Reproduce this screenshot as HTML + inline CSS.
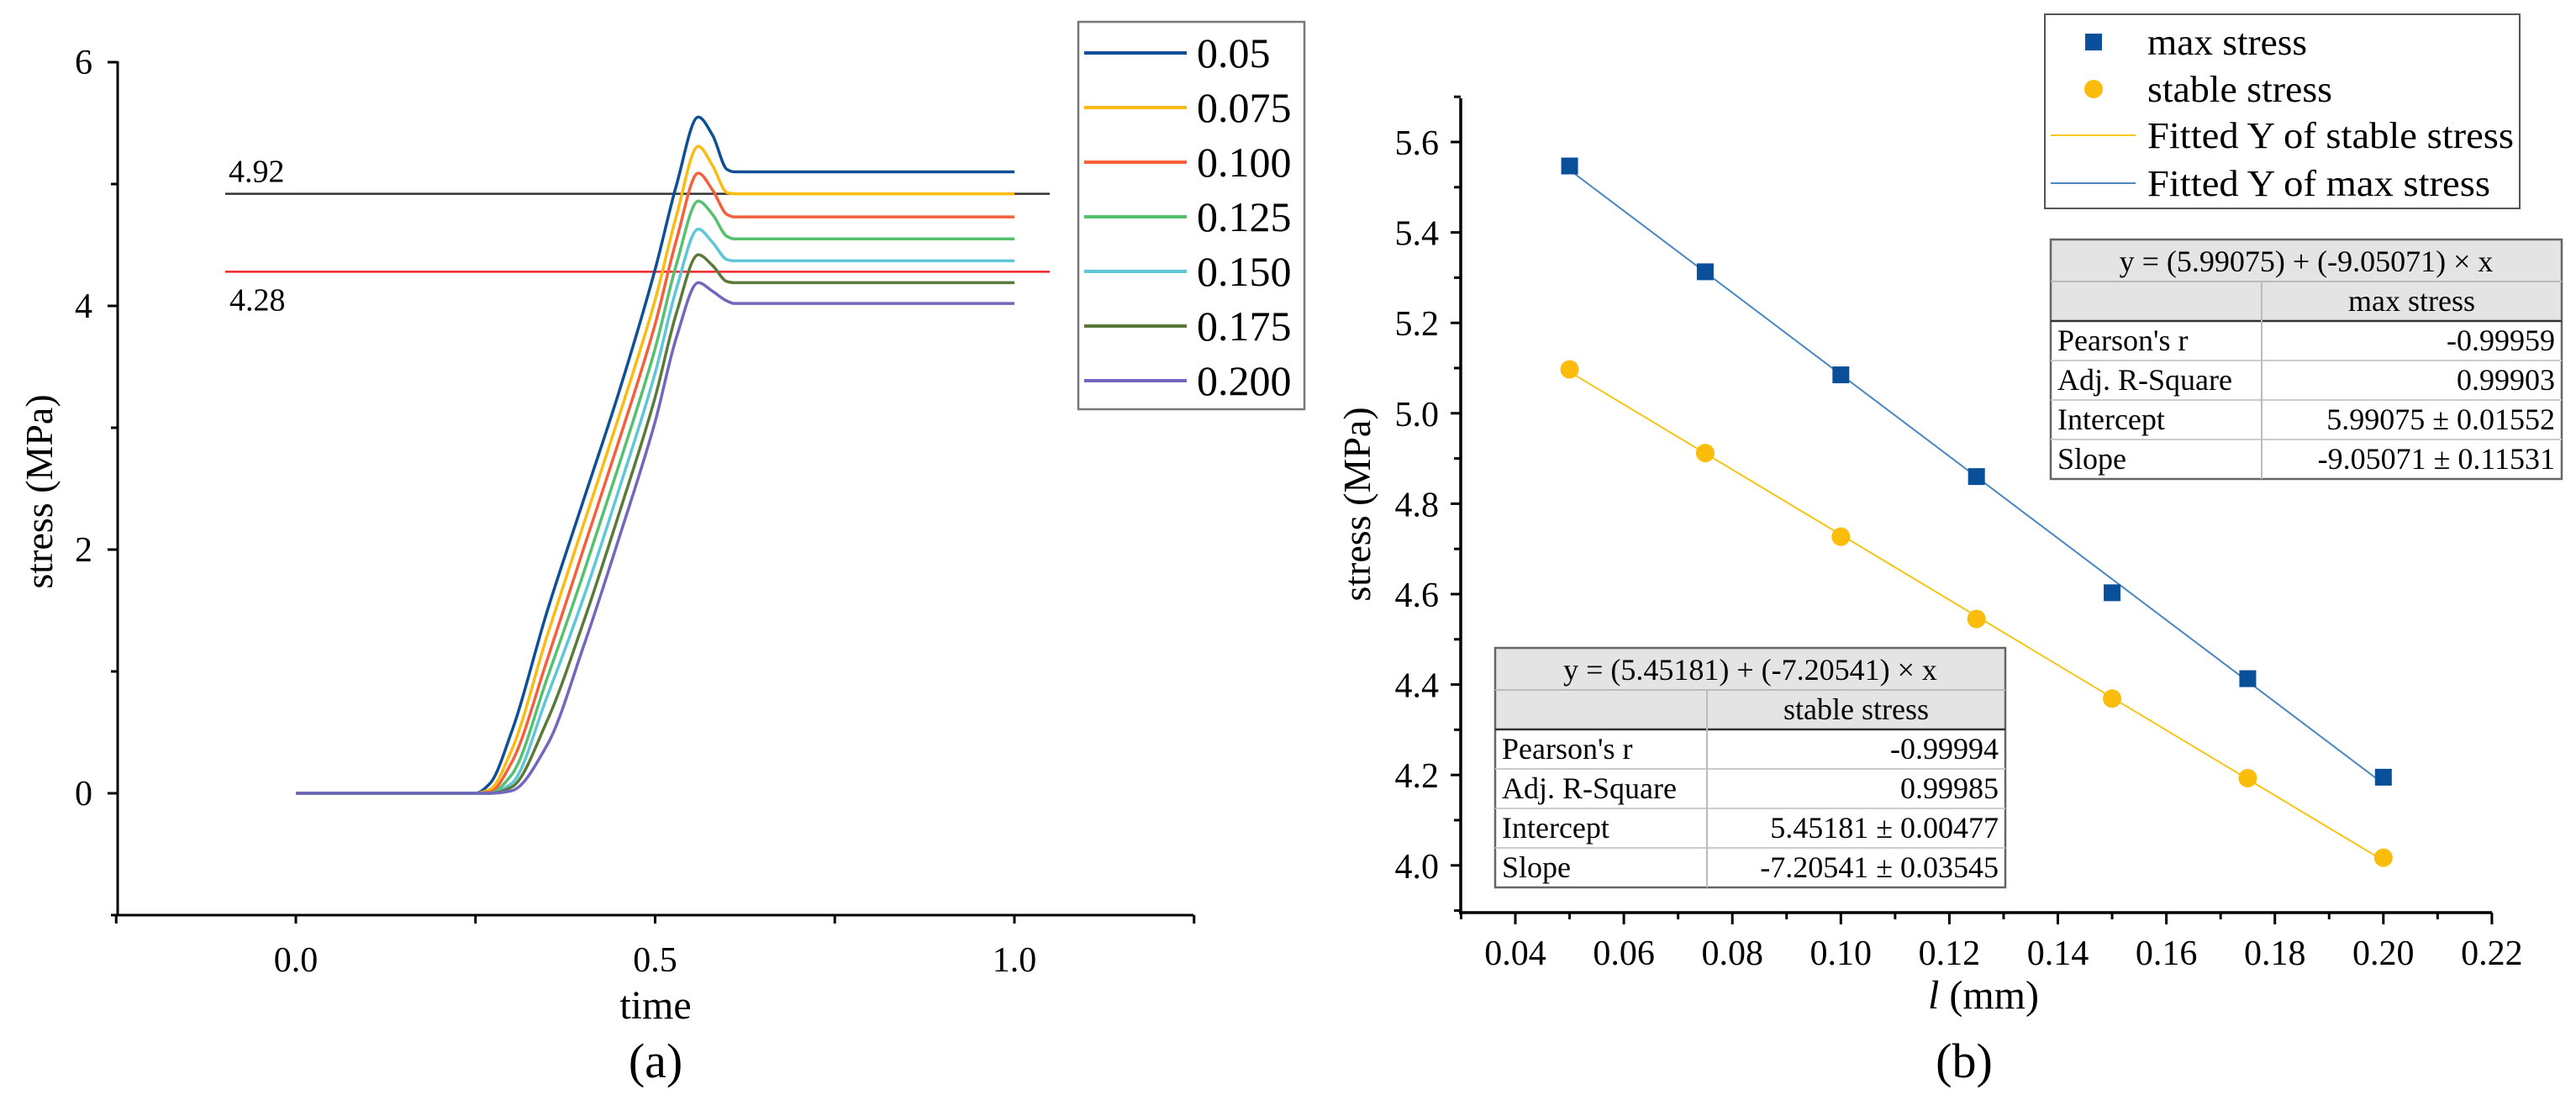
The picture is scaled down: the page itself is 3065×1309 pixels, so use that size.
<!DOCTYPE html>
<html><head><meta charset="utf-8"><style>
html,body{margin:0;padding:0;background:#fff}
svg{display:block;font-family:"Liberation Serif",serif}
</style></head><body>
<svg id="root" width="3065" height="1309" viewBox="0 0 3065 1309" xmlns="http://www.w3.org/2000/svg">
<g id="chartA"></g>
<g id="chartB"></g>
</svg>
<script>
// ---------- Chart (a) data ----------
const timeGrid = [0,0.25,0.27,0.30,0.35,0.40,0.45,0.50,0.53,0.56,0.58,0.60,0.61,1.0];
const seriesLabels = ["0.05","0.075","0.100","0.125","0.150","0.175","0.200"];
const s005 = [0,0,0.08,0.5,1.5,2.4,3.3,4.3,5.0,5.55,5.4,5.12,5.1,5.1];
const s0075 = [0,0,0.03,0.35,1.3,2.2,3.1,4.05,4.75,5.31,5.15,4.93,4.92,4.92];
const s0100 = [0,0,0.01,0.25,1.1,2.0,2.9,3.85,4.55,5.09,4.95,4.75,4.73,4.73];
const s0125 = [0,0,0,0.15,0.95,1.8,2.7,3.65,4.35,4.86,4.75,4.57,4.55,4.55];
const s0150 = [0,0,0,0.08,0.8,1.6,2.5,3.45,4.15,4.63,4.52,4.38,4.37,4.37];
const s0175 = [0,0,0,0.05,0.6,1.4,2.3,3.25,3.95,4.42,4.33,4.2,4.19,4.19];
const s0200 = [0,0,0,0.02,0.4,1.2,2.1,3.05,3.75,4.19,4.12,4.04,4.02,4.02];
const refLevels = [4.92, 4.28];
const xTicksA = [0.0, 0.5, 1.0];
const yTicksA = [0, 2, 4, 6];
// ---------- Chart (b) data ----------
const lengths = [0.05,0.075,0.10,0.125,0.15,0.175,0.20];
const maxStress = [5.547,5.313,5.085,4.860,4.603,4.413,4.195];
const stableStress = [5.097,4.912,4.727,4.545,4.369,4.193,4.017];
const fitMax = [5.99075, -9.05071];
const fitStable = [5.45181, -7.20541];
const xTicksB = [0.04,0.06,0.08,0.10,0.12,0.14,0.16,0.18,0.20,0.22];
const yTicksB = [4.0,4.2,4.4,4.6,4.8,5.0,5.2,5.4,5.6];

const NS="http://www.w3.org/2000/svg";
function mk(tag, attrs, parent, text){const e=document.createElementNS(NS,tag);for(const k in attrs)e.setAttribute(k,attrs[k]);if(text!==undefined)e.textContent=text;parent.appendChild(e);return e;}
// monotone cubic interpolation (no overshoot)
function monoPath(pts){
  const n=pts.length, dx=[], s=[], m=new Array(n);
  for(let i=0;i<n-1;i++){dx[i]=pts[i+1][0]-pts[i][0];s[i]=(pts[i+1][1]-pts[i][1])/dx[i];}
  m[0]=s[0]; m[n-1]=s[n-2];
  for(let i=1;i<n-1;i++){
    if(s[i-1]*s[i]<=0) m[i]=0;
    else { const w1=2*dx[i]+dx[i-1], w2=dx[i]+2*dx[i-1]; m[i]=(w1+w2)/(w1/s[i-1]+w2/s[i]); }
  }
  let d='M'+pts[0][0].toFixed(1)+','+pts[0][1].toFixed(1);
  for(let i=0;i<n-1;i++){
    const h=dx[i]/3;
    d+=' C'+(pts[i][0]+h).toFixed(1)+','+(pts[i][1]+m[i]*h).toFixed(1)+' '+(pts[i+1][0]-h).toFixed(1)+','+(pts[i+1][1]-m[i+1]*h).toFixed(1)+' '+pts[i+1][0].toFixed(1)+','+pts[i+1][1].toFixed(1);
  }
  return d;
}

// ===== Chart A =====
const A=document.getElementById('chartA');
const ax=t=>352+(t-0)*855;
const ay=v=>944-v*145;
let e;
e=mk('line',{x1:140,y1:73,x2:140,y2:1089,stroke:'#000','stroke-width':3},A);


e=mk('line',{x1:138,y1:1089,x2:1420,y2:1089,stroke:'#000','stroke-width':3},A);


for(let v=-1;v<=6;v++){ const major=yTicksA.includes(v);
  e=mk('line',{x1:major?128:132,y1:ay(v),x2:140,y2:ay(v),stroke:'#000','stroke-width':3},A);
  
  
}
yTicksA.forEach(v=>{e=mk('text',{x:110,y:ay(v)+14,'font-size':42,'text-anchor':'end'},A,String(v));
  
  });
for(let t=-0.25;t<=1.2501;t+=0.25){
  e=mk('line',{x1:ax(t),y1:1089,x2:ax(t),y2:1099,stroke:'#000','stroke-width':3},A);
  
  
}
xTicksA.forEach(t=>{e=mk('text',{x:ax(t),y:1156,'font-size':42,'text-anchor':'middle'},A,t.toFixed(1));
  
  });
e=mk('text',{x:780,y:1212,'font-size':48,'text-anchor':'middle'},A,'time');


e=mk('text',{x:0,y:0,'font-size':46,'text-anchor':'middle',transform:'translate(62,585) rotate(-90)'},A,'stress (MPa)');


e=mk('text',{x:780,y:1282,'font-size':58,'text-anchor':'middle'},A,'(a)');


const refColors=['#333','#f0282a'];
refLevels.forEach((v,i)=>{
  e=mk('line',{x1:268,y1:ay(v),x2:1249,y2:ay(v),stroke:refColors[i],'stroke-width':2.5},A);
  
  
});
e=mk('text',{x:272,y:ay(refLevels[0])-14,'font-size':38},A,refLevels[0].toFixed(2));


e=mk('text',{x:273,y:ay(refLevels[1])+46,'font-size':38},A,refLevels[1].toFixed(2));


const seriesA=[s005,s0075,s0100,s0125,s0150,s0175,s0200];
const colorsA=['#0f4f96','#fbbb10','#f4603c','#55c06e','#5ec6d6','#5a7a3a','#7167bf'];
seriesA.forEach((s,i)=>{
  const pts=s.map((v,j)=>[ax(timeGrid[j]),ay(v)]);
  e=mk('path',{d:monoPath(pts),fill:'none',stroke:colorsA[i],'stroke-width':3.5,'stroke-linejoin':'round'},A);
  
  
});
e=mk('rect',{x:1283,y:26,width:269,height:461,fill:'#fff',stroke:'#777','stroke-width':2.5},A);


seriesLabels.forEach((l,i)=>{const y=63+i*65;
  e=mk('line',{x1:1290,y1:y,x2:1412,y2:y,stroke:colorsA[i],'stroke-width':4},A);
  
  
  e=mk('text',{x:1424,y:y+17,'font-size':50},A,l);
  
  
});

// ===== Chart B =====
const B=document.getElementById('chartB');
const bx=v=>1803+(v-0.04)*6455;
const by=v=>169+(5.6-v)*538;
e=mk('line',{x1:1738,y1:117,x2:1738,y2:1086,stroke:'#000','stroke-width':3.5},B);


e=mk('line',{x1:1736,y1:1086,x2:2965,y2:1086,stroke:'#000','stroke-width':3.5},B);


for(let k=0;k<=18;k++){const v=3.9+k*0.1;const major=k%2===1;
  e=mk('line',{x1:major?1726:1730,y1:by(v),x2:1738,y2:by(v),stroke:'#000','stroke-width':3},B);
  
  }
yTicksB.forEach(v=>{e=mk('text',{x:1712,y:by(v)+15,'font-size':42,'text-anchor':'end'},B,v.toFixed(1));
  
  });
for(let k=0;k<=19;k++){const v=0.03+k*0.01;const major=k%2===1;
  e=mk('line',{x1:bx(v),y1:1086,x2:bx(v),y2:major?1100:1094,stroke:'#000','stroke-width':3},B);
  
  }
xTicksB.forEach(v=>{e=mk('text',{x:bx(v),y:1148,'font-size':42,'text-anchor':'middle'},B,v.toFixed(2));
  
  });
e=mk('text',{x:2360,y:1200,'font-size':48,'text-anchor':'middle'},B);


mk('tspan',{'font-style':'italic'},e,'l');mk('tspan',{},e,' (mm)');
e=mk('text',{x:0,y:0,'font-size':46,'text-anchor':'middle',transform:'translate(1630,600) rotate(-90)'},B,'stress (MPa)');


e=mk('text',{x:2337,y:1282,'font-size':58,'text-anchor':'middle'},B,'(b)');


const x0=lengths[0],x1=lengths[lengths.length-1];
e=mk('line',{x1:bx(x0),y1:by(fitStable[0]+fitStable[1]*x0),x2:bx(x1),y2:by(fitStable[0]+fitStable[1]*x1),stroke:'#f5c518','stroke-width':2},B);


e=mk('line',{x1:bx(x0),y1:by(fitMax[0]+fitMax[1]*x0),x2:bx(x1),y2:by(fitMax[0]+fitMax[1]*x1),stroke:'#4a86c0','stroke-width':2},B);


lengths.forEach((l,i)=>{
  e=mk('rect',{x:bx(l)-10,y:by(maxStress[i])-10,width:20,height:20,fill:'#0a4f9a'},B);
  
  
  e=mk('circle',{cx:bx(l),cy:by(stableStress[i]),r:11,fill:'#fbbc0c'},B);
  
  
});
e=mk('rect',{x:2433,y:17,width:565,height:231,fill:'#fff',stroke:'#555','stroke-width':2},B);


const legY=[50,106,161,218];
mk('rect',{x:2481,y:legY[0]-10,width:20,height:20,fill:'#0a4f9a'},B);
mk('circle',{cx:2491,cy:legY[1],r:11,fill:'#fbbc0c'},B);
mk('line',{x1:2440,y1:legY[2],x2:2541,y2:legY[2],stroke:'#f5c518','stroke-width':2},B);
mk('line',{x1:2440,y1:legY[3],x2:2541,y2:legY[3],stroke:'#4a86c0','stroke-width':2},B);
const legT=['max stress','stable stress','Fitted Y of stable stress','Fitted Y of max stress'];
const legW=[190,220,436,408];
legT.forEach((t,i)=>{e=mk('text',{x:2555,y:legY[i]+15,'font-size':44,textLength:legW[i],lengthAdjust:'spacingAndGlyphs'},B,t);
  
  });
function table(x,y,w,split,title,head,rows,name){
  const g=mk('g',{},B);
  
  
  const rh=47,th=50;
  mk('rect',{x:x,y:y,width:w,height:th+rh,fill:'#e4e4e4'},g);
  mk('rect',{x:x,y:y+th+rh,width:w,height:rh*4,fill:'#fff'},g);
  mk('rect',{x:x,y:y,width:w,height:th+rh*5,fill:'none',stroke:'#666','stroke-width':2.5},g);
  mk('line',{x1:x,y1:y+th,x2:x+w,y2:y+th,stroke:'#bbb','stroke-width':2},g);
  mk('line',{x1:x,y1:y+th+rh,x2:x+w,y2:y+th+rh,stroke:'#333','stroke-width':2.5},g);
  for(let i=2;i<=4;i++) mk('line',{x1:x,y1:y+th+rh*i,x2:x+w,y2:y+th+rh*i,stroke:'#ccc','stroke-width':2},g);
  mk('line',{x1:split,y1:y+th,x2:split,y2:y+th+rh*5,stroke:'#bbb','stroke-width':2},g);
  mk('text',{x:x+w/2,y:y+38,'font-size':36,'text-anchor':'middle'},g,title);
  mk('text',{x:(split+x+w)/2,y:y+th+35,'font-size':36,'text-anchor':'middle'},g,head);
  rows.forEach((r,i)=>{const yy=y+th+rh*(i+1)+35;
    mk('text',{x:x+8,y:yy,'font-size':36},g,r[0]);
    mk('text',{x:x+w-8,y:yy,'font-size':36,'text-anchor':'end'},g,r[1]);});
}
table(2440,285,608,2691,'y = (5.99075) + (-9.05071) × x','max stress',
 [["Pearson's r","-0.99959"],["Adj. R-Square","0.99903"],["Intercept","5.99075 ± 0.01552"],["Slope","-9.05071 ± 0.11531"]],'fit-table-max');
table(1779,771,607,2031,'y = (5.45181) + (-7.20541) × x','stable stress',
 [["Pearson's r","-0.99994"],["Adj. R-Square","0.99985"],["Intercept","5.45181 ± 0.00477"],["Slope","-7.20541 ± 0.03545"]],'fit-table-stable');
</script>
</body></html>
